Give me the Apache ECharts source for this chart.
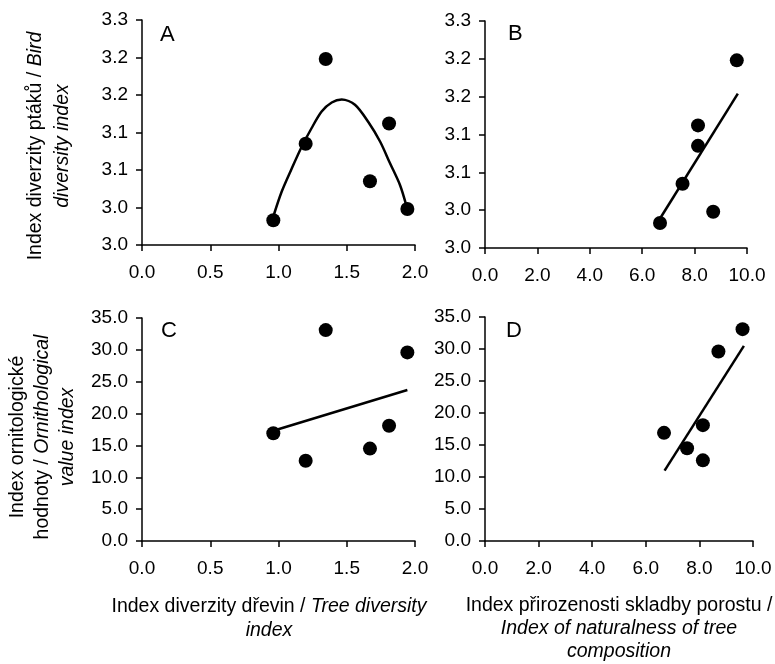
<!DOCTYPE html>
<html>
<head>
<meta charset="utf-8">
<script src="https://cdn.jsdelivr.net/npm/echarts@6/dist/echarts.min.js"></script>
<style>html,body{margin:0;padding:0;background:#fff}#c{width:775px;height:664px}</style>
</head>
<body>
<div id="c"></div>
<script>
// ---- data (six sites) ----
var treeDiv = [0.962, 1.199, 1.346, 1.670, 1.810, 1.944];   // Index diverzity dřevin
var natIdx  = [6.68, 8.13, 9.61, 7.54, 8.13, 8.71];         // Index přirozenosti
var birdDiv = [3.033, 3.135, 3.248, 3.085, 3.162, 3.048];   // Index diverzity ptáků
var ornVal  = [16.9, 12.6, 33.1, 14.5, 18.1, 29.6];         // Index ornitologické hodnoty

// trendlines
var trendAx = [0.962, 1.023, 1.097, 1.170, 1.243, 1.316, 1.390, 1.463, 1.560, 1.658, 1.744, 1.817, 1.890, 1.939];
var trendAy = [3.038, 3.071, 3.102, 3.131, 3.156, 3.178, 3.190, 3.194, 3.187, 3.164, 3.138, 3.109, 3.080, 3.051];
var trendBx = [6.70, 9.65];
var trendBy = [3.040, 3.204];
var trendCx = [0.962, 1.944];
var trendCy = [17.3, 23.7];
var trendDx = [6.70, 9.66];
var trendDy = [11.0, 30.5];

// tick labels
var xTicksTree = ['0.0', '0.5', '1.0', '1.5', '2.0'];
var xTicksNat  = ['0.0', '2.0', '4.0', '6.0', '8.0', '10.0'];
var yTicksBird = ['3.0', '3.0', '3.1', '3.1', '3.2', '3.2', '3.3'];
var yTicksOrn  = ['0.0', '5.0', '10.0', '15.0', '20.0', '25.0', '30.0', '35.0'];

function zip(a, b) { return a.map(function (v, i) { return [v, b[i]]; }); }

var FONT = 'Liberation Sans, Arial, sans-serif';
var lineStyleAxis = { color: '#000', width: 1.5 };

function xAxis(gi, min, max, interval, labels) {
  return {
    type: 'value', gridIndex: gi, min: min, max: max, interval: interval,
    axisLine: { show: true, lineStyle: lineStyleAxis },
    axisTick: { show: true, length: 6, lineStyle: lineStyleAxis },
    splitLine: { show: false },
    axisLabel: { color: '#000', fontSize: 19, fontFamily: FONT, margin: 18,
      formatter: function (v, i) { return labels[i]; } }
  };
}
function yAxis(gi, min, max, interval, labels) {
  return {
    type: 'value', gridIndex: gi, min: min, max: max, interval: interval,
    axisLine: { show: true, lineStyle: lineStyleAxis },
    axisTick: { show: true, length: 6, lineStyle: lineStyleAxis },
    splitLine: { show: false },
    axisLabel: { color: '#000', fontSize: 19, fontFamily: FONT, margin: 14,
      formatter: function (v, i) { return labels[i]; } }
  };
}
function scatter(i, xs, ys) {
  return { type: 'scatter', xAxisIndex: i, yAxisIndex: i, data: zip(xs, ys),
    symbol: 'circle', symbolSize: 14, itemStyle: { color: '#000', opacity: 1 }, silent: true, z: 3 };
}
function trend(i, xs, ys, smooth) {
  return { type: 'line', xAxisIndex: i, yAxisIndex: i, data: zip(xs, ys), smooth: smooth,
    showSymbol: false, symbol: 'none', lineStyle: { color: '#000', width: 2.5, opacity: 1 }, silent: true, z: 2 };
}

var TS = 19.5;
var richN = { fontSize: TS, fontFamily: FONT, fill: '#000', color: '#000', align: 'center' };
var richI = { fontSize: TS, fontFamily: FONT, fill: '#000', color: '#000', fontStyle: 'italic', align: 'center' };

function label(txt, x, y) {
  return { type: 'text', left: x, top: y, style: { text: txt, fontSize: 22, fontFamily: FONT, fill: '#000' } };
}
function title(txt, x, y, rot, lh) {
  return { type: 'text', x: x, y: y, rotation: rot ? Math.PI / 2 : 0,
    style: { text: txt, rich: { n: Object.assign({ lineHeight: lh }, richN), i: Object.assign({ lineHeight: lh }, richI) },
      fontSize: TS, fontFamily: FONT, fill: '#000',
      align: 'center', verticalAlign: 'middle', textAlign: 'center', textVerticalAlign: 'middle', lineHeight: lh } };
}

var option = {
  animation: false,
  backgroundColor: '#fff',
  grid: [
    { left: 142, top: 20, width: 273, height: 225 },
    { left: 485, top: 21, width: 262, height: 227 },
    { left: 142, top: 318, width: 273, height: 223 },
    { left: 485, top: 317, width: 268, height: 224 }
  ],
  xAxis: [
    xAxis(0, 0, 2, 0.5, xTicksTree),
    xAxis(1, 0, 10, 2, xTicksNat),
    xAxis(2, 0, 2, 0.5, xTicksTree),
    xAxis(3, 0, 10, 2, xTicksNat)
  ],
  yAxis: [
    yAxis(0, 3.0, 3.3, 0.05, yTicksBird),
    yAxis(1, 3.0, 3.3, 0.05, yTicksBird),
    yAxis(2, 0, 35, 5, yTicksOrn),
    yAxis(3, 0, 35, 5, yTicksOrn)
  ],
  series: [
    trend(0, trendAx, trendAy, 0.3), scatter(0, treeDiv, birdDiv),
    trend(1, trendBx, trendBy, false), scatter(1, natIdx, birdDiv),
    trend(2, trendCx, trendCy, false), scatter(2, treeDiv, ornVal),
    trend(3, trendDx, trendDy, false), scatter(3, natIdx, ornVal)
  ],
  graphic: [
    label('A', 160, 24), label('B', 508, 23), label('C', 161, 320), label('D', 506, 320),
    title('{n|Index diverzity ptáků / }{i|Bird}\n{i|diversity index}', 49, 146, true, 27),
    title('{n|Index ornitologické}\n{n|hodnoty / }{i|Ornithological}\n{i|value index}', 43, 437, true, 25),
    title('{n|Index diverzity dřevin / }{i|Tree diversity}\n{i|index}', 269, 619, false, 24),
    title('{n|Index přirozenosti skladby porostu /}\n{i|Index of naturalness of tree}\n{i|composition}', 619, 629, false, 23)
  ]
};

var chart = echarts.init(document.getElementById('c'), null, { renderer: 'canvas' });
chart.setOption(option);
</script>
</body>
</html>
